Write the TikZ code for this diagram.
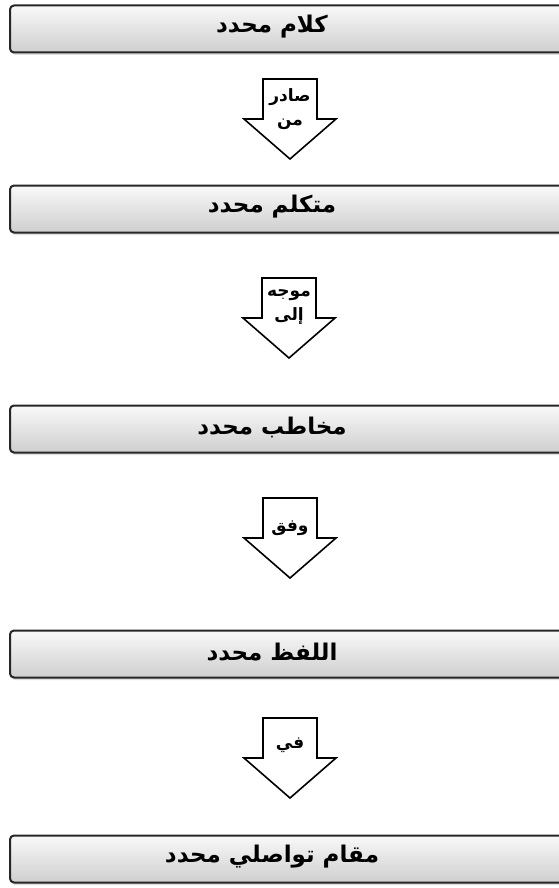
\documentclass[tikz,border=0pt]{standalone}
\usepackage{fontspec}
\newfontfamily\arabicfont[Script=Arabic]{DejaVu Sans}
\TeXXeTstate=1
\usetikzlibrary{shadows}
\tikzset{
        box/.style={draw=black!85, line width=2pt, rounded corners=4pt, minimum width=570pt, minimum height=47pt, top color=gray!5, bottom color=gray!38, drop shadow={opacity=0.25, shadow xshift=1pt, shadow yshift=-2.5pt}},
        word/.style={font=\arabicfont\bfseries\fontsize{23}{26}\selectfont},
        tag/.style={font=\arabicfont\bfseries\fontsize{17}{24}\selectfont, align=center, inner sep=0pt},
        pointer/.pic={\draw[line width=1.6pt, fill=white] (-27,0) -- (27,0) -- (27,40) -- (46,40) -- (0,80) -- (-46,40) -- (-27,40) -- cycle;}
    }

\begin{document}
\begin{tikzpicture}[x=1pt, y=-1pt]
            \useasboundingbox (0,0) rectangle (559,888);

            \node [box] (b1) at (295,  29) {};
            \node [box] (b2) at (295, 209) {};
            \node [box] (b3) at (295, 429) {};
            \node [box] (b4) at (295, 654) {};
            \node [box] (b5) at (295, 859) {};

            \node [word] (w1) at (272,  27) {\beginR كلام محدد\endR};
            \node [word] (w2) at (272, 207) {\beginR متكلم محدد\endR};
            \node [word] (w3) at (272, 427) {\beginR مخاطب محدد\endR};
            \node [word] (w4) at (272, 652) {\beginR اللفظ محدد\endR};
            \node [word] (w5) at (272, 857) {\beginR مقام تواصلي محدد\endR};

            \pic at (290,  79) {pointer};
            \pic at (289, 278) {pointer};
            \pic at (290, 498) {pointer};
            \pic at (290, 718) {pointer};

            \node [tag] (t1) at (290, 109) {\beginR صادر\endR\\\beginR من\endR};
            \node [tag] (t2) at (289, 307) {\beginR موجه\endR\\\beginR إلى\endR};
            \node [tag] (t3) at (290, 528) {\beginR وفق\endR};
            \node [tag] (t4) at (290, 745) {\beginR في\endR};
        \end{tikzpicture}
\end{document}
